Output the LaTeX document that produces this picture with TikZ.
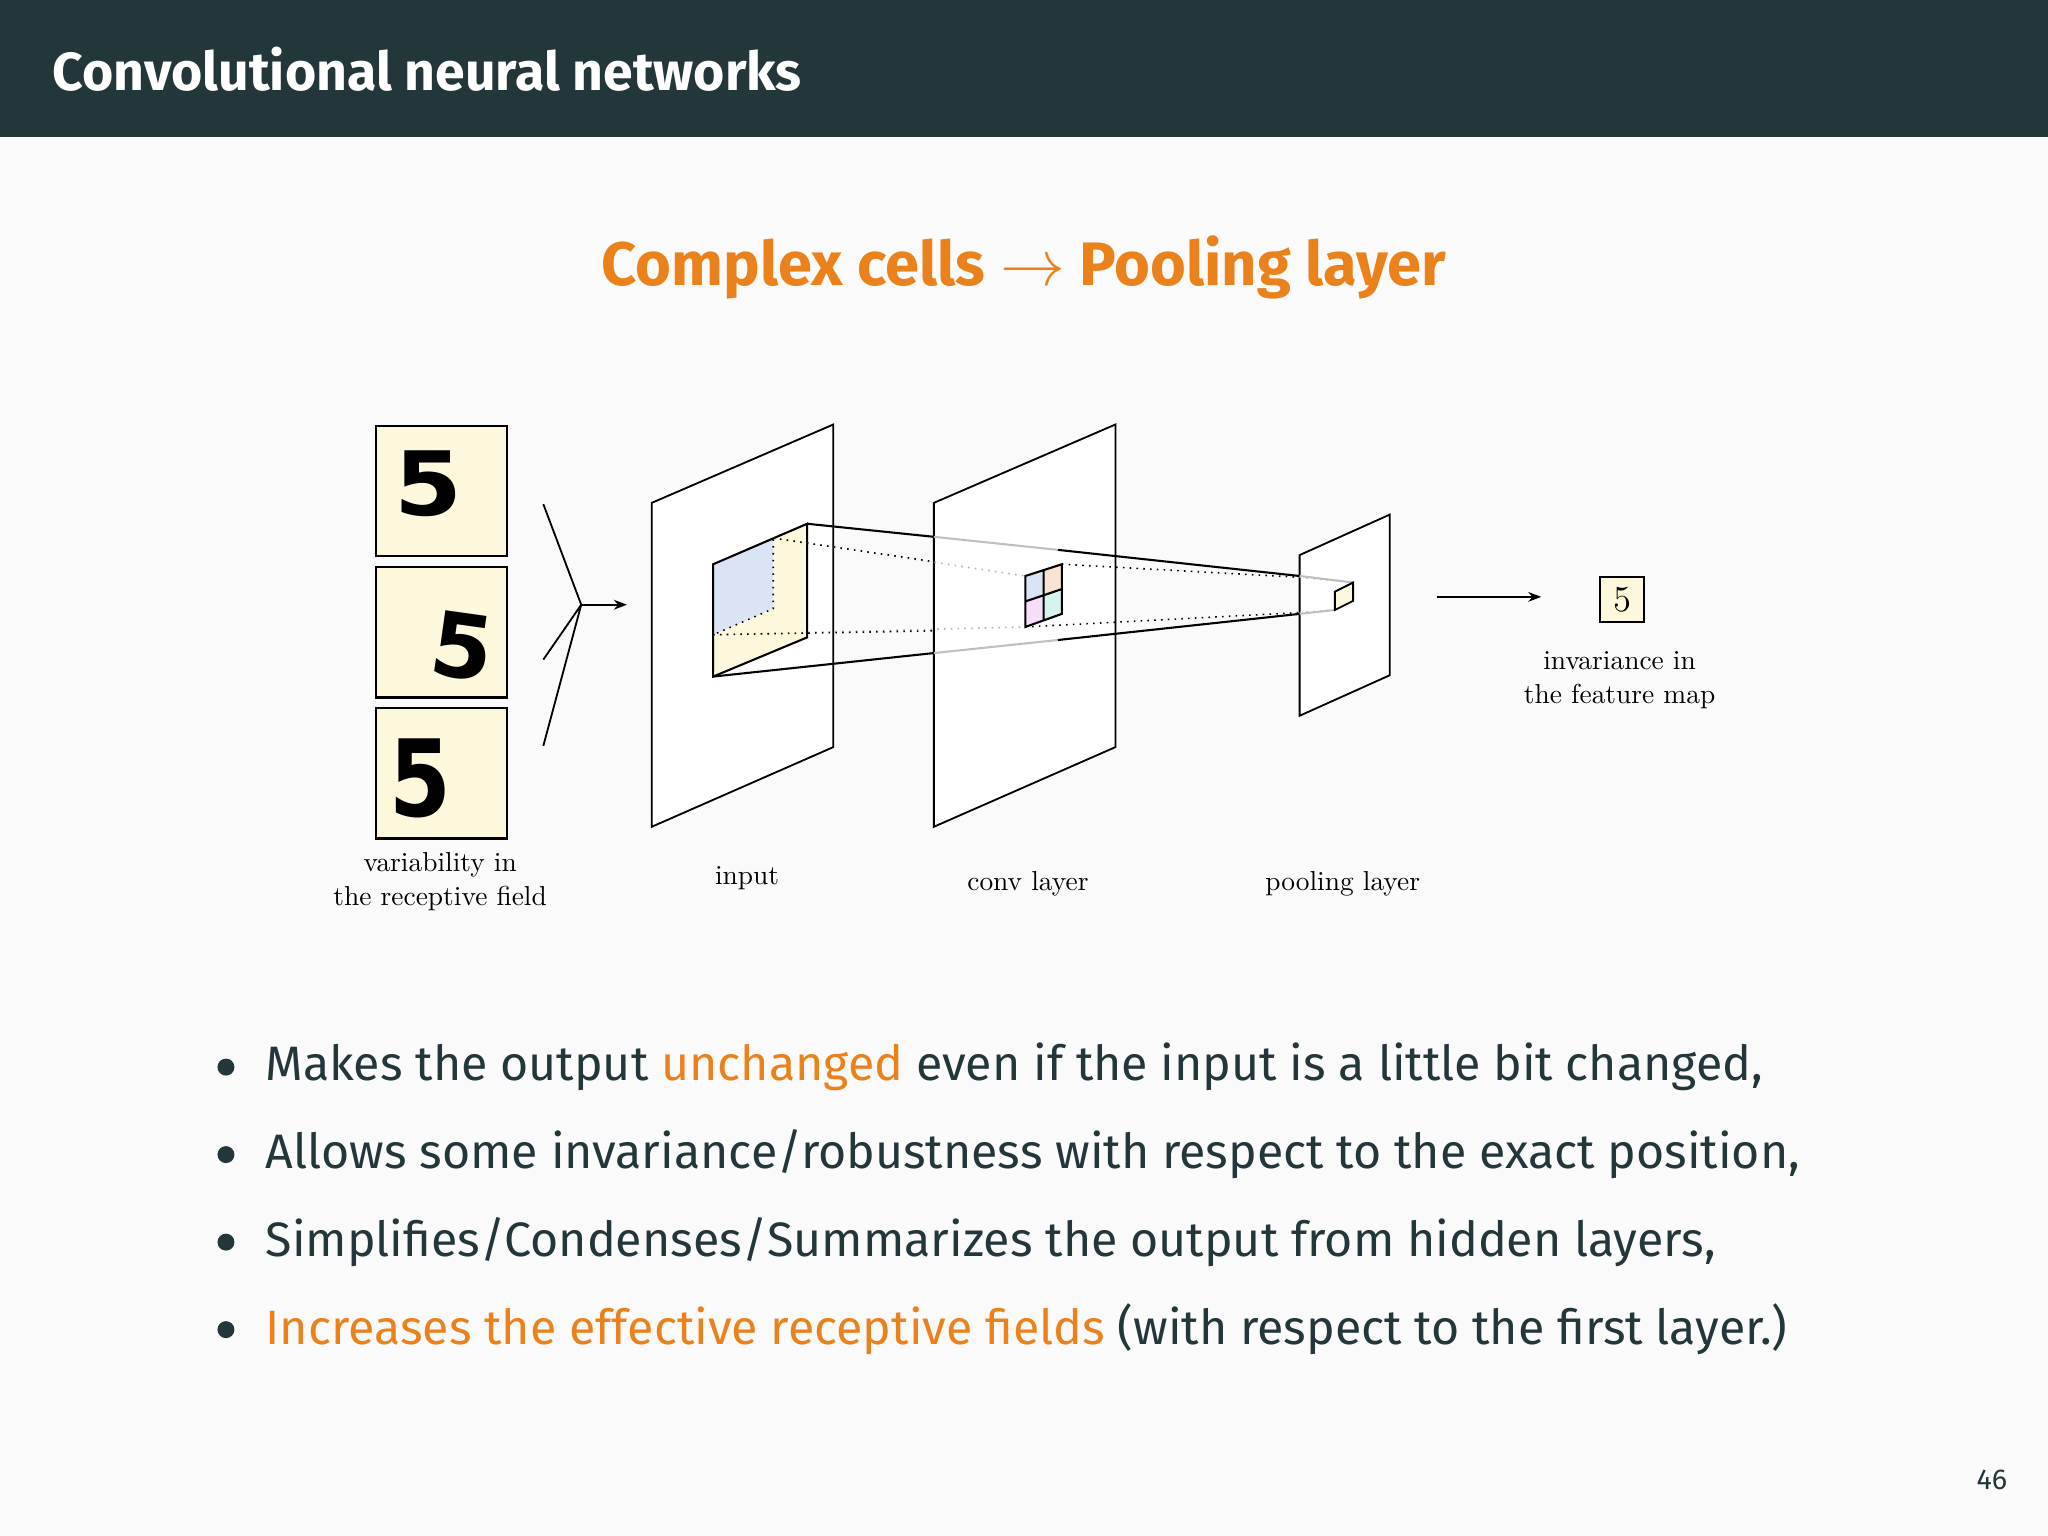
\documentclass[tikz,border=0pt]{standalone}
\usepackage{fontspec}
\setsansfont{Fira Sans}
\newfontfamily\digitfont{DejaVu Sans}
\usetikzlibrary{arrows.meta}
\definecolor{bg}{HTML}{FAFAFA}
\definecolor{dk}{HTML}{23373B}
\definecolor{org}{HTML}{EB811B}
\definecolor{cyel}{HTML}{FDF8DC}
\definecolor{cblue}{HTML}{DAE4F5}
\definecolor{cpeach}{HTML}{FBE3D3}
\definecolor{cpink}{HTML}{F7DDF7}
\definecolor{ccyan}{HTML}{D6F3EE}
\tikzset{lbl/.style={font=\fontsize{10.5}{13}\selectfont, align=center, text=black},
 bul/.style={anchor=west, font=\sffamily\fontsize{18.5}{22}\selectfont, text=dk, inner sep=0},
 dig/.style={font=\digitfont\bfseries\fontsize{34}{34}\selectfont},
 plane/.style={draw=black, line width=0.7pt, fill=white},
 dbox/.style={draw=black, line width=0.8pt, fill=cyel, minimum width=50pt, minimum height=50pt, inner sep=0}}
\begin{document}
\begin{tikzpicture}[x=0.5pt,y=-0.5pt]
\useasboundingbox (0,0) rectangle (1568,1176);
\fill[bg] (0,0) rectangle (1568,1176);
\fill[dk] (0,0) rectangle (1568,105);
\node[anchor=west, text=white, font=\sffamily\fontsize{20.5}{24}\selectfont\bfseries, inner sep=0] (title) at (40,53) {Convolutional neural networks};
\node[text=org, font=\sffamily\fontsize{23.5}{28}\selectfont\bfseries] (head) at (784,205) {Complex cells $\rightarrow$ Pooling layer};
% digit boxes
\node[dbox] (d1) at (338,376) {};
\node[dbox] (d2) at (338,484) {};
\node[dbox] (d3) at (338,592) {};
\node[dig, xscale=1.1] at (328,370) {5};
\node[dig, rotate=-8] at (354,495) {5};
\node[dig, yscale=1.2] at (322,596) {5};
\node[lbl] (l1) at (337,675) {variability in\\the receptive field};
% fan
\coordinate (fan) at (445,463);
\draw[line width=0.7pt] (416,386) -- (fan) (416,505) -- (fan) (416,571) -- (fan);
\draw[line width=0.7pt,-{Stealth[length=5pt]}] (fan) -- (480,463);
% input plane
\draw[plane] (499,385) -- (638,325) -- (638,572) -- (499,633) -- cycle;
% cube
\fill[cyel] (546,432) -- (618,401) -- (618,488) -- (546,518) -- cycle;
\fill[cblue] (546,432) -- (592,412) -- (592,466) -- (546,486) -- cycle;
\draw[dotted, line width=0.6pt] (546,432) -- (546,486) -- (592,466) -- (592,412);
\draw[line width=0.8pt] (546,486) -- (546,518) -- (618,488) -- (618,401) -- (546,432) -- (546,486);
% conv plane
\draw[plane] (715,385) -- (854,325) -- (854,572) -- (715,633) -- cycle;
\draw[dotted, gray!60, line width=0.6pt] (592,412) -- (785,441) (546,486) -- (785,480);
\draw[dotted, line width=0.6pt] (592,412) -- (715,430) (546,486) -- (715,483);
\draw[line width=0.8pt] (618,401) -- (715,411) (546,518) -- (715,500);
\draw[gray!50, line width=0.8pt] (715,411) -- (810,421) (715,500) -- (810,490);
\draw[line width=0.8pt] (810,421) -- (995,441) (810,490) -- (995,470);
% conv cell
\fill[cblue] (785,441) -- (799,436.5) -- (799,456) -- (785,460.5) -- cycle;
\fill[cpeach] (799,436.5) -- (813,432) -- (813,451) -- (799,456) -- cycle;
\fill[cpink] (785,460.5) -- (799,456) -- (799,475) -- (785,480) -- cycle;
\fill[ccyan] (799,456) -- (813,451) -- (813,470) -- (799,475) -- cycle;
\draw[line width=0.8pt] (785,441) -- (813,432) -- (813,470) -- (785,480) -- cycle (799,436.5) -- (799,475) (785,460.5) -- (813,451);
\draw[dotted, line width=0.6pt] (813,432) -- (995,442) (785,480) -- (995,469);
% pool plane
\draw[plane] (995,425) -- (1064,394) -- (1064,517) -- (995,548) -- cycle;
\draw[dotted, gray!60, line width=0.6pt] (995,442) -- (1036,446) (995,469) -- (1022,467);
\draw[gray!50, line width=0.8pt] (995,441) -- (1036,446) (995,470) -- (1022,467);
\fill[cyel, draw=black, line width=0.7pt] (1022,453) -- (1036,446) -- (1036,460) -- (1022,467) -- cycle;
% output
\draw[line width=0.7pt,-{Stealth[length=5pt]}] (1100,457) -- (1180,457);
\node[draw=black, line width=0.8pt, fill=cyel, minimum width=17pt, minimum height=17pt, inner sep=0, font=\fontsize{14}{14}\selectfont] (out) at (1242,459) {5};
\node[lbl] (l5) at (1240,521) {invariance in\\the feature map};
\node[lbl] (l2) at (572,672) {input};
\node[lbl] (l3) at (787,677) {conv layer};
\node[lbl] (l4) at (1028,677) {pooling layer};
% bullets
\foreach \yy in {817,884,951,1018} \fill[dk] (173,\yy) circle (6.5);
\node[bul] (b1) at (203,817) {Makes the output \textcolor{org}{unchanged} even if the input is a little bit changed,};
\node[bul] (b2) at (203,884) {Allows some invariance/robustness with respect to the exact position,};
\node[bul] (b3) at (203,951) {Simplifies/Condenses/Summarizes the output from hidden layers,};
\node[bul] (b4) at (203,1018) {\textcolor{org}{Increases the effective receptive fields} (with respect to the first layer.)};
\node[text=dk, font=\sffamily\fontsize{11}{12}\selectfont] (pg) at (1525,1133) {46};
\end{tikzpicture}
\end{document}
